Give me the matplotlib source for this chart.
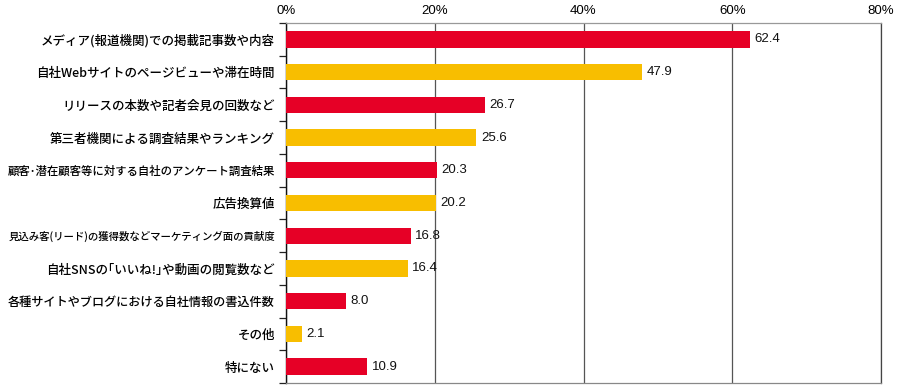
import matplotlib
matplotlib.use("Agg")
import matplotlib.pyplot as plt
import numpy as np

plt.rcParams['font.family'] = ['Liberation Sans', 'Noto Sans CJK JP', 'DejaVu Sans']

# 項目と値（%）
categories = [
    "メディア(報道機関)での掲載記事数や内容",
    "自社Webサイトのページビューや滞在時間",
    "リリースの本数や記者会見の回数など",
    "第三者機関による調査結果やランキング",
    "顧客･潜在顧客等に対する自社のアンケート調査結果",
    "広告換算値",
    "見込み客(リード)の獲得数などマーケティング面の貢献度",
    "自社SNSの｢いいね!｣や動画の閲覧数など",
    "各種サイトやブログにおける自社情報の書込件数",
    "その他",
    "特にない",
]
values = [62.4, 47.9, 26.7, 25.6, 20.3, 20.2, 16.8, 16.4, 8.0, 2.1, 10.9]
xticks = [0, 20, 40, 60, 80]

RED = "#E60026"
YELLOW = "#F8BE00"
colors = [RED if i % 2 == 0 else YELLOW for i in range(len(values))]

fig = plt.figure(figsize=(8.99, 3.88), dpi=100)
ax = fig.add_axes([286 / 899, 5 / 388, (881 - 286) / 899, (383 - 23) / 388])

y = np.arange(len(values))
ax.barh(y, values, height=0.5, color=colors, zorder=3)

for yi, v in zip(y, values):
    ax.text(v + 0.6, yi, f"{v:.1f}", va="center", ha="left", fontsize=9.5,
            color="#111111", zorder=4)

ax.set_xlim(0, 80)
ax.set_ylim(len(values) - 0.5, -0.5)

ax.xaxis.tick_top()
ax.set_xticks(xticks)
ax.set_xticklabels([f"{t}%" for t in xticks], fontsize=9.5)
ax.tick_params(axis="x", length=0, pad=4)
ax.grid(axis="x", color="#555555", linewidth=0.9, zorder=1)

# カテゴリー名（目盛線は項目の境界に）
ax.set_yticks(y)
ax.set_yticklabels(categories, fontsize=9, fontweight="medium",
                   family=['Noto Sans CJK JP', 'DejaVu Sans'])
ax.tick_params(axis="y", which="major", length=0, pad=8)
ax.set_yticks(np.arange(len(values) + 1) - 0.5, minor=True)
ax.tick_params(axis="y", which="minor", length=5, width=0.9, direction="out", color="#222222")

# 長いラベルは左端に収まるよう縮小
fig.canvas.draw()
renderer = fig.canvas.get_renderer()
max_w = 268
for lab in ax.get_yticklabels():
    w = lab.get_window_extent(renderer).width
    if w > max_w:
        lab.set_fontsize(lab.get_fontsize() * max_w / w)

ax.spines["left"].set_color("#111111")
ax.spines["left"].set_linewidth(1.0)
ax.spines["right"].set_color("#444444")
ax.spines["top"].set_color("#999999")
ax.spines["bottom"].set_color("#888888")
for s in ["right", "top", "bottom"]:
    ax.spines[s].set_linewidth(0.9)

fig.savefig("out.png", dpi=100)
